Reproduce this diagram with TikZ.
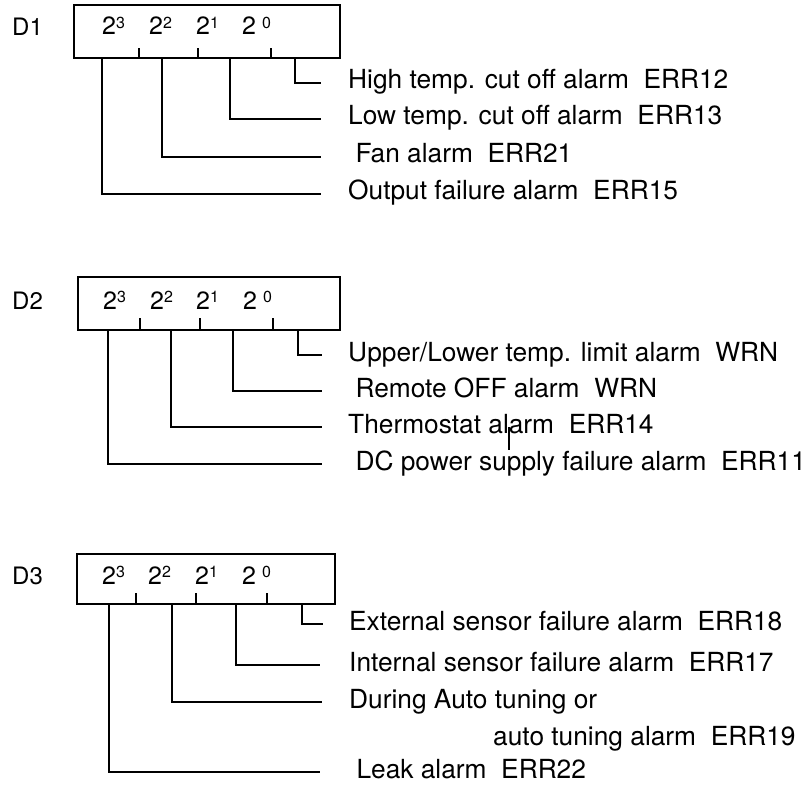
\documentclass[tikz,border=0pt]{standalone}
\usepackage{fontspec}
\setmainfont{TeX Gyre Heros}
\usetikzlibrary{positioning}
\newcommand{\bitpow}[2][0pt]{2\hspace{#1}\raisebox{6.5pt}{\fontsize{16}{16}\selectfont #2}}

\begin{document}
\begin{tikzpicture}[x=1pt,y=1pt,
  box/.style={draw,line width=2.6pt,inner sep=0pt,outer sep=0pt,anchor=north west},
  lead/.style={line width=2pt},
  tick/.style={line width=2pt},
  lbl/.style={font=\fontsize{26.3}{37}\selectfont,anchor=west,inner sep=0pt,text height=12pt,text depth=0pt},
  bits/.style={font=\fontsize{25}{28}\selectfont,anchor=base west,inner sep=0pt},
  reg/.style={font=\fontsize{24}{28}\selectfont,anchor=base west,inner sep=0pt}]
  \useasboundingbox (0,0) rectangle (810,-791);

  % D1
  \node[reg] (d1) at (12,-36) {D1};
  \node[box,minimum width=266pt,minimum height=53pt] (d1box) at (74,-5) {};
  \node[bits] (d1p3) at (102,-35) {\bitpow{3}};
  \node[bits] (d1p2) at (149,-35) {\bitpow{2}};
  \node[bits] (d1p1) at (196,-35) {\bitpow{1}};
  \node[bits] (d1p0) at (242,-35) {\bitpow[6pt]{0}};
  \draw[tick] ([xshift=65pt]d1box.south west) -- ++(0,10);
  \draw[tick] ([xshift=124pt]d1box.south west) -- ++(0,10);
  \draw[tick] ([xshift=197pt]d1box.south west) -- ++(0,10);
  \coordinate (d1b3) at ([xshift=28pt]d1box.south west);
  \coordinate (d1b2) at ([xshift=88pt]d1box.south west);
  \coordinate (d1b1) at ([xshift=156pt]d1box.south west);
  \coordinate (d1b0) at ([xshift=221pt]d1box.south west);
  \node[lbl] (d1e0) at (348,-83) {High temp. cut off alarm~~ERR12};
  \node[lbl] (d1e1) at (348,-119) {Low temp. cut off alarm~~ERR13};
  \node[lbl] (d1e2) at (348,-157) {\ Fan alarm~~ERR21};
  \node[lbl] (d1e3) at (348,-194) {Output failure alarm~~ERR15};
  \draw[lead] (d1b0) |- ([xshift=-27pt]d1e0.west);
  \draw[lead] (d1b1) |- ([xshift=-27pt]d1e1.west);
  \draw[lead] (d1b2) |- ([xshift=-27pt]d1e2.west);
  \draw[lead] (d1b3) |- ([xshift=-27pt]d1e3.west);

  % D2
  \node[reg] (d2) at (12,-309) {D2};
  \node[box,minimum width=262pt,minimum height=53pt] (d2box) at (78,-277) {};
  \node[bits] (d2p3) at (103,-309) {\bitpow{3}};
  \node[bits] (d2p2) at (150,-309) {\bitpow{2}};
  \node[bits] (d2p1) at (196,-309) {\bitpow{1}};
  \node[bits] (d2p0) at (243,-309) {\bitpow[6pt]{0}};
  \draw[tick] ([xshift=62pt]d2box.south west) -- ++(0,12);
  \draw[tick] ([xshift=122pt]d2box.south west) -- ++(0,12);
  \draw[tick] ([xshift=195pt]d2box.south west) -- ++(0,12);
  \coordinate (d2b3) at ([xshift=30pt]d2box.south west);
  \coordinate (d2b2) at ([xshift=93pt]d2box.south west);
  \coordinate (d2b1) at ([xshift=155pt]d2box.south west);
  \coordinate (d2b0) at ([xshift=220pt]d2box.south west);
  \node[lbl] (d2e0) at (348,-355) {Upper/Lower temp. limit alarm~~WRN};
  \node[lbl] (d2e1) at (348,-391) {\ Remote OFF alarm~~WRN};
  \node[lbl] (d2e2) at (348,-427) {Thermostat alarm~~ERR14};
  \node[lbl] (d2e3) at (348,-464) {\ DC power supply failure alarm~~ERR11};
  \draw[lead] (d2b0) |- ([xshift=-26pt]d2e0.west);
  \draw[lead] (d2b1) |- ([xshift=-26pt]d2e1.west);
  \draw[lead] (d2b2) |- ([xshift=-26pt]d2e2.west);
  \draw[lead] (d2b3) |- ([xshift=-26pt]d2e3.west);
  \draw[line width=1.2pt] (509,-427) -- (509,-450);

  % D3
  \node[reg] (d3) at (12,-584) {D3};
  \node[box,minimum width=258pt,minimum height=50pt] (d3box) at (77,-554) {};
  \node[bits] (d3p3) at (102,-584) {\bitpow{3}};
  \node[bits] (d3p2) at (148,-584) {\bitpow{2}};
  \node[bits] (d3p1) at (195,-584) {\bitpow{1}};
  \node[bits] (d3p0) at (242,-584) {\bitpow[6pt]{0}};
  \draw[tick] ([xshift=59pt]d3box.south west) -- ++(0,11);
  \draw[tick] ([xshift=119pt]d3box.south west) -- ++(0,11);
  \draw[tick] ([xshift=190pt]d3box.south west) -- ++(0,11);
  \coordinate (d3b3) at ([xshift=32pt]d3box.south west);
  \coordinate (d3b2) at ([xshift=95pt]d3box.south west);
  \coordinate (d3b1) at ([xshift=159pt]d3box.south west);
  \coordinate (d3b0) at ([xshift=225pt]d3box.south west);
  \node[lbl] (d3e0) at (349,-624) {External sensor failure alarm~~ERR18};
  \node[lbl] (d3e1) at (349,-665) {Internal sensor failure alarm~~ERR17};
  \node[lbl] (d3e2) at (349,-702) {During Auto tuning or};
  \node[lbl,anchor=base west] (d3e2b) at (493,-745) {auto tuning alarm~~ERR19};
  \node[lbl] (d3e3) at (349,-772) {\ Leak alarm~~ERR22};
  \draw[lead] (d3b0) |- ([xshift=-26pt]d3e0.west);
  \draw[lead] (d3b1) |- ([xshift=-29pt]d3e1.west);
  \draw[lead] (d3b2) |- ([xshift=-27pt]d3e2.west);
  \draw[lead] (d3b3) |- ([xshift=-29pt]d3e3.west);
\end{tikzpicture}
\end{document}
